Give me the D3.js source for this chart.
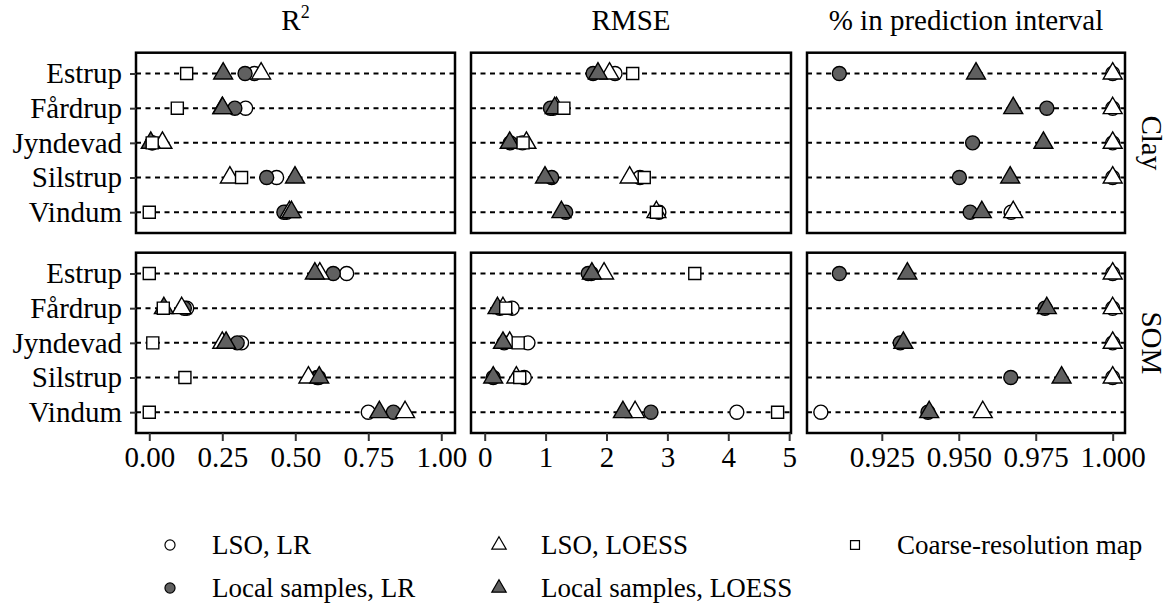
<!DOCTYPE html>
<html>
<head>
<meta charset="utf-8">
<script src="https://cdn.jsdelivr.net/npm/d3@7"></script>
<style>
  body { margin: 0; background: #fff; }
  svg { display: block; font-family: "Liberation Serif", "DejaVu Serif", serif; }
</style>
</head>
<body>
<svg id="chart" width="1174" height="608"></svg>
<script>
const sites = ["Estrup", "Fårdrup", "Jyndevad", "Silstrup", "Vindum"];
const metrics = ["R2", "RMSE", "PI"];
const properties = ["Clay", "SOM"];
const methods = ["LSO, LR", "Local samples, LR", "LSO, LOESS", "Local samples, LOESS", "Coarse-resolution map"];
const xTicksR2 = [0, 0.25, 0.5, 0.75, 1];
const xTicksRMSE = [0, 1, 2, 3, 4, 5];
const xTicksPI = [0.925, 0.95, 0.975, 1];

// R2, clay
const r2ClayLsoLR = [0.36, 0.33, 0.01, 0.436, 0.47];
const r2ClayLocalLR = [0.328, 0.293, 0.01, 0.402, 0.461];
const r2ClayLsoLoess = [0.383, 0.25, 0.045, 0.276, 0.48];
const r2ClayLocalLoess = [0.253, 0.251, 0.005, 0.499, 0.487];
const r2ClayCoarse = [0.128, 0.096, 0.01, 0.316, 0.0];
// R2, SOM
const r2SomLsoLR = [0.676, 0.128, 0.316, 0.575, 0.75];
const r2SomLocalLR = [0.63, 0.12, 0.301, 0.58, 0.836];
const r2SomLsoLoess = [0.584, 0.111, 0.25, 0.545, 0.876];
const r2SomLocalLoess = [0.567, 0.05, 0.263, 0.582, 0.788];
const r2SomCoarse = [0.0, 0.048, 0.012, 0.122, 0.0];
// RMSE, clay
const rmseClayLsoLR = [2.14, 1.12, 0.62, 2.55, 2.86];
const rmseClayLocalLR = [1.78, 1.08, 0.42, 1.1, 1.33];
const rmseClayLsoLoess = [2.05, 1.18, 0.685, 2.38, 2.82];
const rmseClayLocalLoess = [1.86, 1.15, 0.41, 0.99, 1.26];
const rmseClayCoarse = [2.43, 1.3, 0.63, 2.62, 2.82];
// RMSE, SOM
const rmseSomLsoLR = [1.75, 0.45, 0.71, 0.65, 4.14];
const rmseSomLocalLR = [1.7, 0.25, 0.32, 0.14, 2.73];
const rmseSomLsoLoess = [1.96, 0.3, 0.41, 0.52, 2.47];
const rmseSomLocalLoess = [1.76, 0.21, 0.3, 0.14, 2.27];
const rmseSomCoarse = [3.45, 0.345, 0.55, 0.575, 4.81];
// % in prediction interval, clay (no interval for the coarse map)
const piClayLsoLR = [1.0, 1.0, 1.0, 1.0, 0.967];
const piClayLocalLR = [0.9112, 0.9786, 0.9545, 0.9502, 0.9537];
const piClayLsoLoess = [1.0, 1.0, 1.0, 1.0, 0.9677];
const piClayLocalLoess = [0.9556, 0.9677, 0.9775, 0.9667, 0.9575];
// % in prediction interval, SOM
const piSomLsoLR = [1.0, 1.0, 1.0, 1.0, 0.9052];
const piSomLocalLR = [0.9112, 0.978, 0.931, 0.9669, 0.94];
const piSomLsoLoess = [1.0, 1.0, 1.0, 1.0, 0.9578];
const piSomLocalLoess = [0.9333, 0.9786, 0.932, 0.9834, 0.9404];

const panelValues = {
  Clay: {
    R2: [r2ClayLsoLR, r2ClayLocalLR, r2ClayLsoLoess, r2ClayLocalLoess, r2ClayCoarse],
    RMSE: [rmseClayLsoLR, rmseClayLocalLR, rmseClayLsoLoess, rmseClayLocalLoess, rmseClayCoarse],
    PI: [piClayLsoLR, piClayLocalLR, piClayLsoLoess, piClayLocalLoess, null]
  },
  SOM: {
    R2: [r2SomLsoLR, r2SomLocalLR, r2SomLsoLoess, r2SomLocalLoess, r2SomCoarse],
    RMSE: [rmseSomLsoLR, rmseSomLocalLR, rmseSomLsoLoess, rmseSomLocalLoess, rmseSomCoarse],
    PI: [piSomLsoLR, piSomLocalLR, piSomLsoLoess, piSomLocalLoess, null]
  }
};

const svg = d3.select("#chart");
const fontSize = 29;
const legendFont = 27;
const grey = "#606060";

const colX = { R2: [136, 455], RMSE: [471, 791], PI: [807, 1125] };
const rowY = { Clay: [52.7, 233], SOM: [252.7, 433] };
const domains = { R2: [-0.0455, 1.047], RMSE: [-0.225, 5.03], PI: [0.9007, 1.004] };
const ticks = { R2: xTicksR2, RMSE: xTicksRMSE, PI: xTicksPI };
const tickFmt = { R2: d3.format(".2f"), RMSE: d3.format("d"), PI: d3.format(".3f") };

const xScales = {};
metrics.forEach((m) => {
  xScales[m] = d3.scaleLinear().domain(domains[m]).range(colX[m]);
});

// marker style per method
const shapeOf = [d3.symbolCircle, d3.symbolCircle, d3.symbolTriangle, d3.symbolTriangle, d3.symbolSquare];
const sizeOf = [155, 155, 155, 155, 145];
const fillOf = ["white", grey, "white", grey, "white"];

properties.forEach((p) => {
  const y = d3.scalePoint().domain(sites).range(rowY[p]).padding(0.6);

  metrics.forEach((m) => {
    const x = xScales[m];
    const [x0, x1] = colX[m];
    const [y0, y1] = rowY[p];
    const g = svg.append("g");

    // dashed guide lines
    g.selectAll("line.guide")
      .data(sites)
      .join("line")
      .attr("x1", x0)
      .attr("x2", x1)
      .attr("y1", (d) => y(d))
      .attr("y2", (d) => y(d))
      .attr("stroke", "black")
      .attr("stroke-width", 2)
      .attr("stroke-dasharray", "5,4.5");

    panelValues[p][m].forEach((vals, i) => {
      if (!vals) return;
      g.selectAll(null)
        .data(vals.map((v, k) => ({ site: sites[k], v: v })))
        .join("path")
        .attr("transform", (d) => `translate(${x(d.v)},${y(d.site)})`)
        .attr("d", d3.symbol().type(shapeOf[i]).size(sizeOf[i]))
        .attr("fill", fillOf[i])
        .attr("stroke", "black")
        .attr("stroke-width", 1.4);
    });

    g.append("rect")
      .attr("x", x0)
      .attr("y", y0)
      .attr("width", x1 - x0)
      .attr("height", y1 - y0)
      .attr("fill", "none")
      .attr("stroke", "black")
      .attr("stroke-width", 2.5);

    if (m === "R2") {
      const ax = svg.append("g")
        .attr("transform", `translate(${x0},0)`)
        .call(d3.axisLeft(y).tickSize(6).tickPadding(8));
      ax.select(".domain").remove();
      ax.selectAll("line").attr("stroke", "#333").attr("stroke-width", 2);
      ax.selectAll("text")
        .attr("font-family", "Liberation Serif")
        .attr("font-size", fontSize)
        .attr("fill", "black");
    }

    if (p === "SOM") {
      const ax = svg.append("g")
        .attr("transform", `translate(0,${y1})`)
        .call(d3.axisBottom(x).tickValues(ticks[m]).tickFormat(tickFmt[m]).tickSize(8).tickPadding(5));
      ax.select(".domain").remove();
      ax.selectAll("line").attr("stroke", "#333").attr("stroke-width", 2);
      ax.selectAll("text")
        .attr("font-family", "Liberation Serif")
        .attr("font-size", fontSize)
        .attr("fill", "black");
    }
  });

  // right strip label
  const cy = (rowY[p][0] + rowY[p][1]) / 2;
  svg.append("text")
    .attr("transform", `translate(1142,${cy}) rotate(90)`)
    .attr("text-anchor", "middle")
    .attr("font-size", fontSize)
    .text(p);
});

// column headers
const headers = { R2: null, RMSE: "RMSE", PI: "% in prediction interval" };
metrics.forEach((m) => {
  const cx = (colX[m][0] + colX[m][1]) / 2;
  const t = svg.append("text")
    .attr("x", cx)
    .attr("y", 30)
    .attr("text-anchor", "middle")
    .attr("font-size", fontSize);
  if (m === "R2") {
    t.append("tspan").text("R");
    t.append("tspan").attr("dy", -12).attr("font-size", 18).text("2");
  } else {
    t.text(headers[m]);
  }
});

// legend
const legendPos = [
  [170, 545], [170, 588], [499, 545], [499, 588], [855, 545]
];
methods.forEach((name, i) => {
  const [lx, ly] = legendPos[i];
  svg.append("path")
    .attr("transform", `translate(${lx},${ly})`)
    .attr("d", d3.symbol().type(shapeOf[i]).size(shapeOf[i] === d3.symbolTriangle ? 90 : 80))
    .attr("fill", fillOf[i])
    .attr("stroke", "black")
    .attr("stroke-width", 1.2);
  svg.append("text")
    .attr("x", lx + 42)
    .attr("y", ly + 9)
    .attr("font-size", legendFont)
    .text(name);
});
</script>
</body>
</html>
